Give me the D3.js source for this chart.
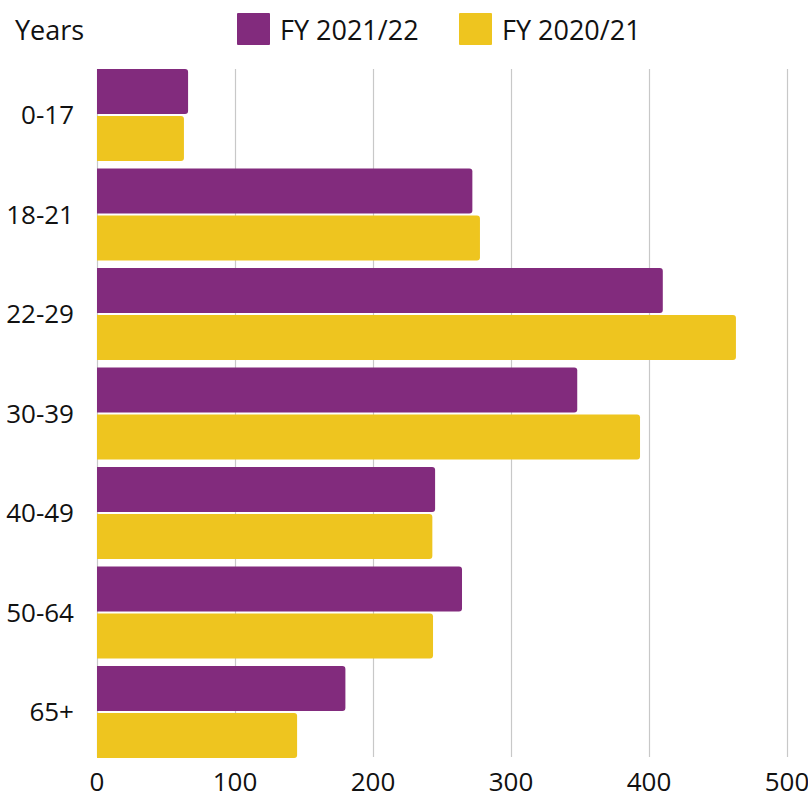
<!DOCTYPE html>
<html><head><meta charset="utf-8">
<script src="https://cdn.jsdelivr.net/npm/d3@7"></script>
<style>body{margin:0;background:#fff;} text{font-family:"Open Sans",sans-serif;fill:#111;}</style>
</head><body>
<svg id="c" width="808" height="794"></svg>
<script>
const categories = ["0-17","18-21","22-29","30-39","40-49","50-64","65+"];
const seriesNames = ["FY 2021/22","FY 2020/21"];
const fy2122 = [66, 272, 410, 348, 245, 264.5, 180];
const fy2021 = [63, 277.5, 463, 393.5, 243, 243.5, 145];
const xTicks = [0,100,200,300,400,500];
const colors = ["#822B7D","#EEC51F"];

const svg = d3.select("#c");
const x = d3.scaleLinear().domain([0,500]).range([97,787]);
const y = d3.scaleBand().domain(categories).range([65.25,761.75]).paddingInner(0.075).paddingOuter(0.0375);
const sub = d3.scaleBand().domain([0,1]).range([0,y.bandwidth()]).paddingInner(0.045);

// grid
svg.append("g").selectAll("line").data(xTicks).join("line")
  .attr("x1",d=>x(d)+0.5).attr("x2",d=>x(d)+0.5).attr("y1",69).attr("y2",757)
  .attr("stroke","#c8c8c8").attr("stroke-width",1.2);

function barPath(x0,y0,w,h,r){
  r=Math.min(r,w);
  return `M${x0},${y0}H${x0+w-r}Q${x0+w},${y0} ${x0+w},${y0+r}V${y0+h-r}Q${x0+w},${y0+h} ${x0+w-r},${y0+h}H${x0}Z`;
}
const rows = categories.map((c,i)=>({c,vals:[fy2122[i],fy2021[i]]}));
const g = svg.append("g");
rows.forEach(r=>{
  r.vals.forEach((v,j)=>{
    g.append("path").attr("d",barPath(x(0),y(r.c)+sub(j),x(v)-x(0),sub.bandwidth(),3)).attr("fill",colors[j]);
  });
});

// y labels
svg.append("g").selectAll("text").data(categories).join("text")
  .attr("x",74).attr("y",d=>y(d)+y.bandwidth()/2).attr("dy","0.36em")
  .attr("text-anchor","end").attr("font-size",26).text(d=>d);

// x labels
svg.append("g").selectAll("text").data(xTicks).join("text")
  .attr("x",d=>x(d)).attr("y",791).attr("text-anchor","middle").attr("font-size",26).text(d=>d);

// title
svg.append("text").attr("x",15).attr("y",40).attr("font-size",27).text("Years");

// legend
const legX=[237,459];
seriesNames.forEach((s,i)=>{
  svg.append("rect").attr("x",legX[i]).attr("y",13).attr("width",33).attr("height",32).attr("rx",1).attr("fill",colors[i]);
  svg.append("text").attr("x",legX[i]+43).attr("y",40).attr("font-size",27).text(s);
});
</script>
</body></html>
